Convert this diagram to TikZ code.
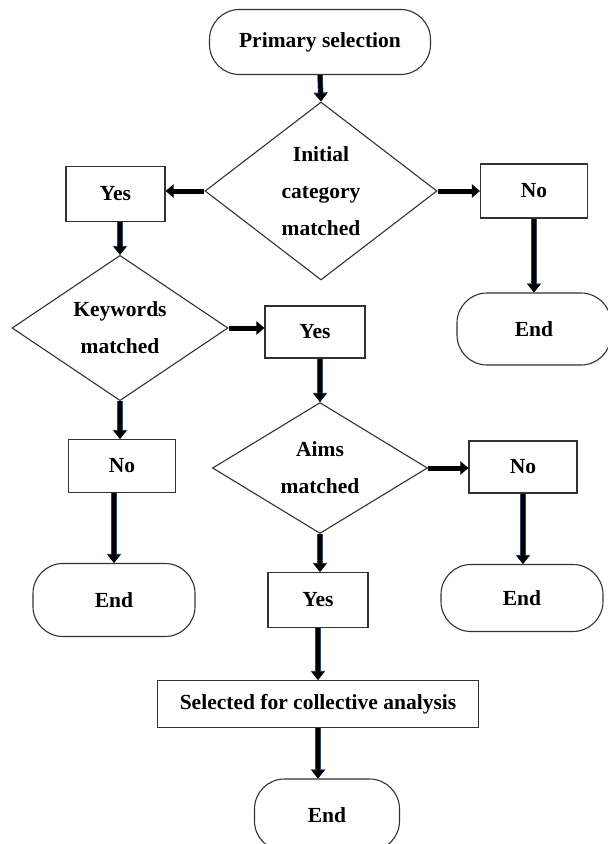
\documentclass[tikz,border=0pt]{standalone}
\usepackage{fontspec}
\setmainfont{Liberation Serif}
\usetikzlibrary{shapes.geometric,arrows.meta}
\definecolor{arrowblue}{RGB}{40,70,110}
\definecolor{edgegray}{RGB}{50,50,50}

\begin{document}
\begin{tikzpicture}[x=1pt,y=-1pt,
    every node/.style={font=\fontsize{21.5}{37}\selectfont\bfseries, align=center, inner sep=0pt},
    term/.style={draw=edgegray, line width=1.1pt, rounded corners=30pt},
    box/.style={draw=edgegray, line width=1.1pt, rectangle},
    decide/.style={draw=edgegray, line width=1.1pt, diamond},
    vflow/.style={line width=4pt, -{Triangle[length=8pt,width=12pt]},
      preaction={draw=arrowblue, line width=5.5pt, -{Triangle[length=9pt,width=14pt]}}},
    hflow/.style={line width=5pt, -{Triangle[length=8pt,width=13pt]}}]
      \useasboundingbox (0,0) rectangle (608,844);
      % start
      \node[term, minimum width=221pt, minimum height=65pt] (prim) at (320,42) {Primary selection};
      \node[decide, minimum width=232pt, minimum height=178pt] (init) at (321,191) {Initial\\category\\matched};
      \node[box, minimum width=99pt, minimum height=55pt] (yesA) at (115.5,194) {Yes};
      \node[box, minimum width=107pt, minimum height=54pt] (noA) at (534,191) {No};
      \node[term, minimum width=154pt, minimum height=72pt] (endA) at (534,329) {End};
      % keywords branch
      \node[decide, minimum width=216pt, minimum height=128pt] (kw) at (120,328) {Keywords\\matched};
      \node[box, minimum width=100pt, minimum height=52pt] (yesB) at (315,332) {Yes};
      \node[box, minimum width=107pt, minimum height=53pt] (noB) at (122,466) {No};
      \node[term, minimum width=162pt, minimum height=73pt] (endB) at (114,600) {End};
      % aims branch
      \node[decide, minimum width=215pt, minimum height=129pt] (aims) at (320,468) {Aims\\matched};
      \node[box, minimum width=108pt, minimum height=52pt] (noC) at (523,467) {No};
      \node[term, minimum width=162pt, minimum height=67pt] (endC) at (522,598) {End};
      \node[box, minimum width=100pt, minimum height=55pt] (yesC) at (318,600) {Yes};
      \node[box, minimum width=321pt, minimum height=47pt] (sel) at (318,704) {Selected for collective analysis};
      \node[term, minimum width=145pt, minimum height=72pt] (endD) at (327,815) {End};
      % connectors
      \draw[vflow] (prim.south) -- (init.north);
      \draw[hflow] (init.west) -- (yesA.east |- init.west);
      \draw[hflow] (init.east) -- (noA.west |- init.east);
      \draw[vflow] (noA.south) -- (endA.north);
      \draw[vflow] (yesA.south -| kw.north) -- (kw.north);
      \draw[hflow] (kw.east) -- (yesB.west |- kw.east);
      \draw[vflow] (kw.south) -- (kw.south |- noB.north);
      \draw[vflow] (noB.south -| endB.north) -- (endB.north);
      \draw[vflow] (yesB.south -| aims.north) -- (aims.north);
      \draw[hflow] (aims.east) -- (noC.west |- aims.east);
      \draw[vflow] (noC.south) -- (noC.south |- endC.north);
      \draw[vflow] (aims.south) -- (aims.south |- yesC.north);
      \draw[vflow] (yesC.south) -- (yesC.south |- sel.north);
      \draw[vflow] (sel.south) -- (sel.south |- endD.north);
    \end{tikzpicture}
\end{document}
